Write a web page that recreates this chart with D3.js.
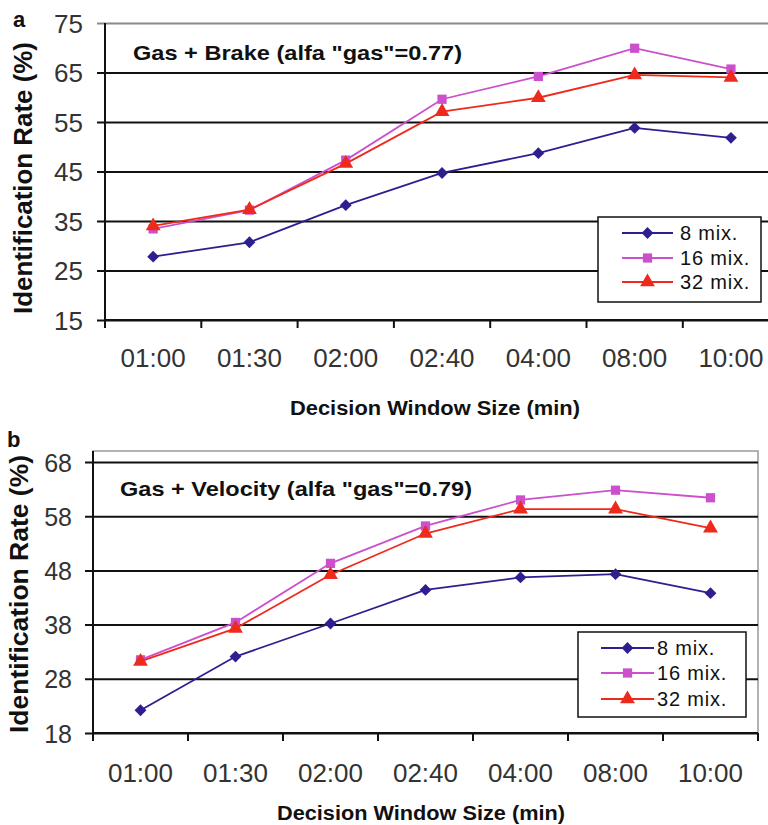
<!DOCTYPE html>
<html><head><meta charset="utf-8">
<script src="https://cdn.jsdelivr.net/npm/d3@7/dist/d3.min.js"></script>
<style>body{margin:0;background:#fff}svg{display:block}</style>
</head><body>
<svg id="c" width="768" height="825"></svg>
<script>
const categories = ["01:00","01:30","02:00","02:40","04:00","08:00","10:00"];
const seriesNames = ["8 mix.","16 mix.","32 mix."];
const brake8  = [27.8, 30.7, 38.2, 44.7, 48.7, 53.8, 51.8];
const brake16 = [33.4, 37.2, 47.3, 59.6, 64.2, 69.9, 65.7];
const brake32 = [34.0, 37.3, 46.6, 57.1, 59.9, 64.5, 64.0];
const vel8  = [22.2, 32.1, 38.2, 44.4, 46.7, 47.3, 43.8];
const vel16 = [31.5, 38.4, 49.3, 56.2, 61.0, 62.8, 61.4];
const vel32 = [31.2, 37.3, 47.2, 54.8, 59.3, 59.3, 55.8];
const ticksA = [15,25,35,45,55,65,75];
const ticksB = [18,28,38,48,58,68];

const colors = ["#2d1f8f","#cc4fcc","#ee2a1c"];
const shapes = [d3.symbolSquare, d3.symbolSquare, d3.symbolTriangle];
const rot = [45, 0, 0];
const sizes = [70, 85, 95];
const svg = d3.select("#c");
const font = "Liberation Sans, Arial, sans-serif";

function panel(o){
  const g = svg.append("g");
  const x = d3.scaleBand().domain(categories).range([o.x0, o.x0 + o.band*categories.length]);
  const y = d3.scaleLinear().domain([o.ticks[0], o.ticks[o.ticks.length-1]]).range([o.yb, o.yt]);
  if (o.border) {
    g.append("rect").attr("x",o.x0).attr("y",o.border[0]).attr("width",o.border[1]-o.x0)
      .attr("height",o.yb-o.border[0]).attr("fill","none").attr("stroke","#999").attr("stroke-width",1.5);
  }
  const ya = d3.axisLeft(y).tickValues(o.ticks).tickSize(-(o.xEnd - o.x0)).tickPadding(0).tickFormat("");
  const yg = g.append("g").attr("transform",`translate(${o.x0},0)`).call(ya);
  yg.select(".domain").remove();
  yg.selectAll(".tick line").attr("stroke",d => (d===o.ticks[o.ticks.length-1] && o.topGray) ? "#8a8a8a" : "#111")
    .attr("stroke-width",2).attr("x1",-8);
  yg.selectAll(".tick").append("text").attr("x",o.ylabX - o.x0).attr("dy","0.36em")
    .attr("text-anchor","end").attr("fill","#333").attr("font-family",font)
    .attr("font-size",o.yfs).text(d=>d);
  g.append("line").attr("x1",o.x0).attr("x2",o.x0).attr("y1",o.border?o.border[0]:o.yt).attr("y2",o.yb)
    .attr("stroke","#111").attr("stroke-width",2);
  const xa = d3.axisBottom(x).tickSize(0).tickFormat("");
  const xg = g.append("g").attr("transform",`translate(0,${o.yb})`).call(xa);
  xg.select(".domain").remove();
  g.append("line").attr("x1",o.x0).attr("x2",o.xEnd).attr("y1",o.yb).attr("y2",o.yb).attr("stroke","#111").attr("stroke-width",2);
  const bounds = d3.range(categories.length+1).map(i => o.x0 + i*x.step());
  g.selectAll(".xt").data(bounds.filter(b=>b<=o.xEnd+1)).join("line")
    .attr("x1",d=>d).attr("x2",d=>d).attr("y1",o.yb).attr("y2",o.yb+8).attr("stroke","#111").attr("stroke-width",2);
  g.selectAll(".xl").data(categories).join("text")
    .attr("x",d=>x(d)+x.bandwidth()/2).attr("y",o.xlabY).attr("dy","0.36em")
    .attr("text-anchor","middle").attr("fill","#333").attr("font-family",font).attr("font-size",o.xfs)
    .text(d=>d);
  o.series.forEach((vals,i)=>{
    const pts = vals.map((v,j)=>[x(categories[j])+x.bandwidth()/2, y(v)]);
    g.append("path").attr("d",d3.line()(pts)).attr("fill","none").attr("stroke",colors[i]).attr("stroke-width",1.8);
    g.selectAll(".m"+i).data(pts).join("path")
      .attr("transform",p=>`translate(${p[0]},${p[1]}) rotate(${rot[i]})`)
      .attr("d",d3.symbol().type(shapes[i]).size(sizes[i])).attr("fill",colors[i]);
  });
  const L = o.legend;
  g.append("rect").attr("x",L.x).attr("y",L.y).attr("width",L.w).attr("height",L.h)
    .attr("fill","#fff").attr("stroke","#111").attr("stroke-width",1.5);
  seriesNames.forEach((s,i)=>{
    const ly = L.rows[i];
    g.append("line").attr("x1",L.lx1).attr("x2",L.lx2).attr("y1",ly).attr("y2",ly).attr("stroke",colors[i]).attr("stroke-width",2);
    g.append("path").attr("transform",`translate(${(L.lx1+L.lx2)/2},${ly}) rotate(${rot[i]})`)
      .attr("d",d3.symbol().type(shapes[i]).size(sizes[i])).attr("fill",colors[i]);
    g.append("text").attr("x",L.tx).attr("y",ly).attr("dy","0.36em").attr("fill","#111")
      .attr("font-family",font).attr("font-size",L.fs).attr("letter-spacing",0.8).text(s);
  });
  g.append("text").attr("x",o.titleX).attr("y",o.titleY).attr("dy","0.36em").attr("font-family",font)
    .attr("font-weight","bold").attr("font-size",21).attr("fill","#111")
    .attr("textLength",o.titleW).attr("lengthAdjust","spacingAndGlyphs").text(o.title);
  g.append("text").attr("x",o.xtX).attr("y",o.xtY).attr("dy","0.36em").attr("text-anchor","middle")
    .attr("font-family",font).attr("font-weight","bold").attr("font-size",20).attr("fill","#111")
    .attr("textLength",o.xtW).attr("lengthAdjust","spacingAndGlyphs")
    .text("Decision Window Size (min)");
  g.append("text").attr("transform",`translate(${o.ytX},${o.ytY}) rotate(-90)`).attr("dy","0.36em")
    .attr("text-anchor","middle").attr("font-family",font).attr("font-weight","bold")
    .attr("font-size",o.ytfs).attr("fill","#111")
    .attr("textLength",o.ytW).attr("lengthAdjust","spacingAndGlyphs").text("Identification Rate (%)");
  g.append("text").attr("x",o.letter[0]).attr("y",o.letter[1]).attr("dy","0.36em").attr("font-family",font)
    .attr("font-weight","bold").attr("font-size",22).attr("fill","#111").text(o.letter[2]);
}

panel({x0:105, band:96.3, xEnd:768, yt:23, yb:320, ticks:ticksA, topGray:true,
  series:[brake8,brake16,brake32], ylabX:83, yfs:26, xlabY:358, xfs:26,
  legend:{x:598,y:217,w:163,h:85,rows:[233,258,282],lx1:622,lx2:673,tx:680,fs:20},
  title:'Gas + Brake (alfa "gas"=0.77)', titleX:133, titleY:52, titleW:329,
  xtX:435, xtY:408, xtW:290, ytX:23, ytY:178, ytfs:25, ytW:272, letter:[13,19,"a"]});

panel({x0:93, band:95, xEnd:758, yt:462, yb:733, ticks:ticksB, topGray:false, border:[451,758],
  series:[vel8,vel16,vel32], ylabX:72, yfs:25, xlabY:773, xfs:26,
  legend:{x:578,y:632,w:168,h:85,rows:[648,673,699],lx1:601,lx2:654,tx:657,fs:20},
  title:'Gas + Velocity (alfa "gas"=0.79)', titleX:120, titleY:488, titleW:352,
  xtX:421, xtY:813, xtW:288, ytX:19, ytY:594, ytfs:26, ytW:278, letter:[7,439,"b"]});
</script>
</body></html>
